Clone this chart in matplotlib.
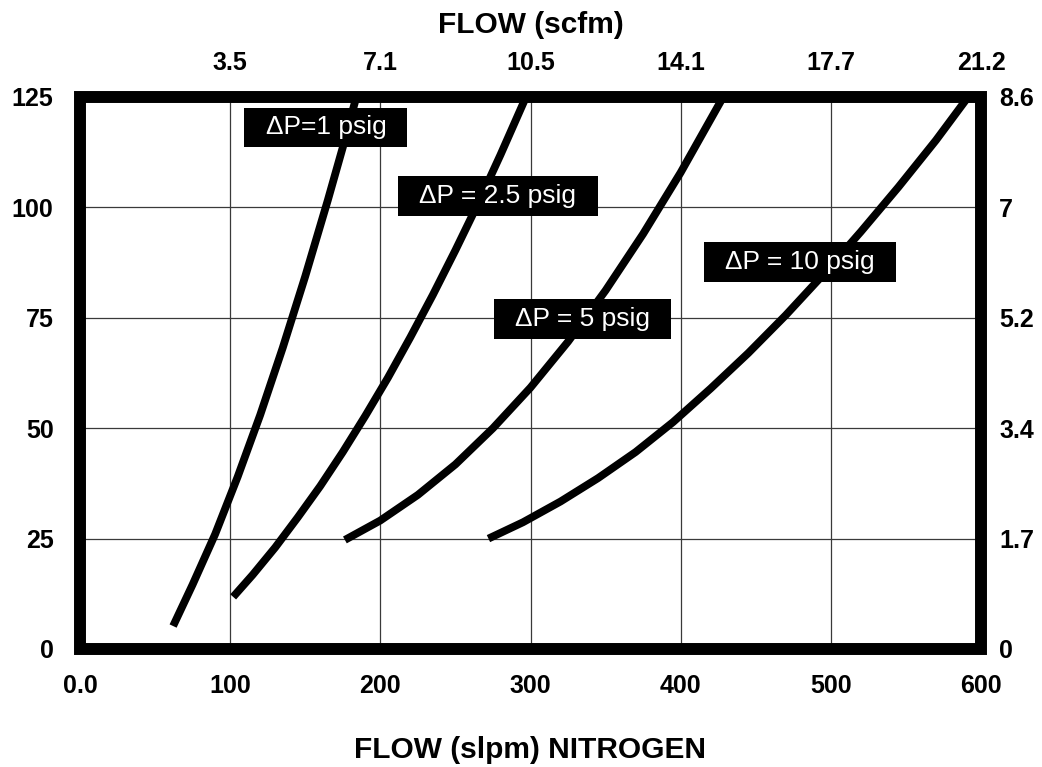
import numpy as np
import matplotlib
matplotlib.use("Agg")
import matplotlib.pyplot as plt
from matplotlib.patches import Rectangle
from matplotlib.path import Path

plt.rcParams['font.family'] = ['Liberation Sans', 'DejaVu Sans']

# Kurva tekanan (psig) vs aliran nitrogen (slpm)
flow_dp1 = [62, 75, 90, 105, 120, 135, 150, 165, 175, 184]
pres_dp1 = [5.2, 14.6, 26.0, 39.0, 53.0, 68.2, 84.4, 101.6, 113.6, 125]

flow_dp25 = [102, 115, 130, 145, 160, 175, 190, 205, 220, 235, 250, 265, 280, 297]
pres_dp25 = [11.8, 16.8, 23.0, 29.8, 36.9, 44.6, 52.8, 61.4, 70.6, 80.2, 90.3,
             100.8, 111.9, 125]

flow_dp5 = [176.4, 200, 225, 250, 275, 300, 325, 350, 375, 400, 428.3]
pres_dp5 = [24.7, 29.1, 34.9, 41.8, 50.0, 59.2, 69.6, 81.2, 94.0, 107.9, 125]

flow_dp10 = [272, 295, 320, 345, 370, 395, 420, 445, 470, 495, 520, 545, 570, 591.4]
pres_dp10 = [25, 28.7, 33.4, 38.7, 44.6, 51.4, 59.0, 67.0, 75.6, 84.8, 94.5,
             104.6, 115.2, 125]

curves = [(flow_dp1, pres_dp1), (flow_dp25, pres_dp25),
          (flow_dp5, pres_dp5), (flow_dp10, pres_dp10)]

# Label kotak hitam
label_text = ["\u0394P=1 psig", "\u0394P = 2.5 psig", "\u0394P = 5 psig", "\u0394P = 10 psig"]
label_x = [163.8, 278.3, 334.7, 479.4]
label_y = [118.1, 102.5, 74.8, 87.7]

# Sumbu
x_ticks = [0, 100, 200, 300, 400, 500, 600]
x_labels = ["0.0", "100", "200", "300", "400", "500", "600"]
scfm_ticks = [100, 200, 300, 400, 500, 600]
scfm_labels = ["3.5", "7.1", "10.5", "14.1", "17.7", "21.2"]
y_ticks = [0, 25, 50, 75, 100, 125]
y_labels = ["0", "25", "50", "75", "100", "125"]
bar_labels = ["0", "1.7", "3.4", "5.2", "7", "8.6"]


def wide_box(x0, y0, width, height, mutation_size):
    # kotak dengan padding horizontal lebih lebar dari vertikal
    px = 0.8 * mutation_size
    py = 0.3 * mutation_size
    x0, y0 = x0 - px, y0 - py
    x1, y1 = x0 + width + 2 * px, y0 + height + 2 * py
    return Path([(x0, y0), (x1, y0), (x1, y1), (x0, y1), (x0, y0)],
                closed=True)


fig = plt.figure(figsize=(10.42, 7.67), dpi=100)
ax = fig.add_axes([80 / 1042, 118 / 767, 901 / 1042, 552 / 767])

ax.set_xlim(0, 600)
ax.set_ylim(0, 125)

for xv in x_ticks[1:-1]:
    ax.axvline(xv, color="#3a3a3a", lw=0.9, zorder=1)
for yv in y_ticks[1:-1]:
    ax.axhline(yv, color="#3a3a3a", lw=0.9, zorder=1)

for fl, pr in curves:
    ax.plot(fl, pr, color="black", lw=5.6, solid_capstyle="butt",
            solid_joinstyle="round", zorder=2, clip_on=True)

for t, lx, ly in zip(label_text, label_x, label_y):
    ax.text(lx, ly, t, color="white", fontsize=19, ha="center", va="center",
            zorder=5, bbox=dict(boxstyle=wide_box, facecolor="black",
                                edgecolor="none"))

for s in ax.spines.values():
    s.set_visible(False)
frame = Rectangle((0, 0), 1, 1, transform=ax.transAxes, fill=False,
                  edgecolor="black", lw=8.6, joinstyle="miter", clip_on=False,
                  zorder=6)
ax.add_patch(frame)

ax.set_xticks(x_ticks)
ax.set_xticklabels(x_labels, fontweight="bold")
ax.set_yticks(y_ticks)
ax.set_yticklabels(y_labels, fontweight="bold")
ax.tick_params(axis="x", length=0, pad=18, labelsize=18)
ax.tick_params(axis="y", length=0, pad=19, labelsize=18)
ax.set_xlabel("FLOW (slpm) NITROGEN", fontsize=21.5, fontweight="bold",
              labelpad=27)

# sumbu kanan (bar)
axr = ax.twinx()
axr.set_ylim(0, 125)
axr.set_yticks(y_ticks)
axr.set_yticklabels(bar_labels, fontweight="bold")
axr.tick_params(axis="y", length=0, pad=13, labelsize=18)
for s in axr.spines.values():
    s.set_visible(False)

# sumbu atas (scfm)
axt = ax.twiny()
axt.set_xlim(0, 600)
axt.set_xticks(scfm_ticks)
axt.set_xticklabels(scfm_labels, fontweight="bold")
axt.tick_params(axis="x", length=0, pad=16, labelsize=18)
axt.set_xlabel("FLOW (scfm)", fontsize=21.5, fontweight="bold", labelpad=13)
for s in axt.spines.values():
    s.set_visible(False)

fig.savefig("out.png", dpi=100)
